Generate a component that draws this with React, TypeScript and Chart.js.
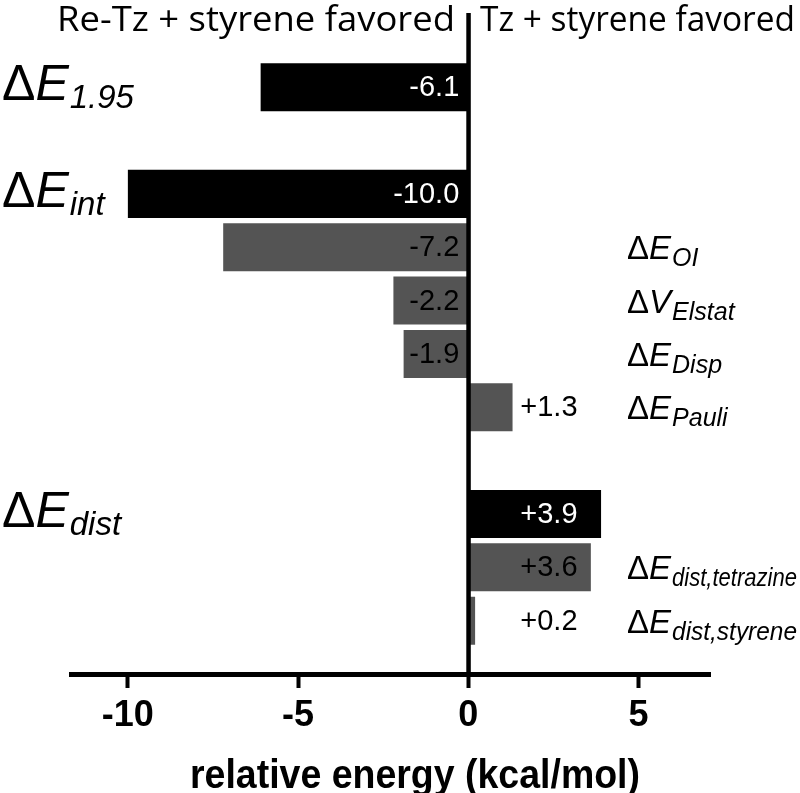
import React, { useEffect, useRef } from "react";
import { Chart, registerables } from "chart.js";

Chart.register(...registerables);

// ---- data ----
const rowIndex = [0, 2, 3, 4, 5, 6, 8, 9, 10];
const values = [-6.1, -10.0, -7.2, -2.2, -1.9, 1.3, 3.9, 3.6, 0.2];
const valueLabels = ["-6.1", "-10.0", "-7.2", "-2.2", "-1.9", "+1.3", "+3.9", "+3.6", "+0.2"];
const isTotal = [true, true, false, false, false, false, true, false, false];

const leftSymbols = ["ΔE", "ΔE", "ΔE"];
const leftSubs = ["1.95", "int", "dist"];
const leftRows = [0, 2, 8];

const rightSymbols = ["ΔE", "ΔV", "ΔE", "ΔE", "ΔE", "ΔE"];
const rightSubs = ["OI", "Elstat", "Disp", "Pauli", "dist,tetrazine", "dist,styrene"];
const rightRows = [3, 4, 5, 6, 9, 10];

const xTicks = [-10, -5, 0, 5];
const headers = ["Re-Tz + styrene favored", "Tz + styrene favored"];
const axisTitle = "relative energy (kcal/mol)";

const SANS = "'Liberation Sans', Arial, sans-serif";

function drawSymbol(
  ctx: CanvasRenderingContext2D,
  x: number,
  baseline: number,
  sym: string,
  sub: string,
  size: number,
  subSize: number,
  subDrop: number,
  maxRight: number
) {
  ctx.textAlign = "left";
  ctx.textBaseline = "alphabetic";
  ctx.fillStyle = "#000";
  ctx.font = `${size}px ${SANS}`;
  const d = sym.charAt(0);
  ctx.fillText(d, x, baseline);
  let cx = x + ctx.measureText(d).width;
  ctx.font = `italic ${size}px ${SANS}`;
  const rest = sym.slice(1);
  ctx.fillText(rest, cx, baseline);
  cx += ctx.measureText(rest).width + 1;
  ctx.font = `italic ${subSize}px ${SANS}`;
  ctx.fillText(sub, cx, baseline + subDrop, Math.max(10, maxRight - cx));
}

// draw text stretched/compressed horizontally to span [x0, x0+w]
function fitText(ctx: CanvasRenderingContext2D, text: string, x0: number, w: number, baseline: number) {
  const natural = ctx.measureText(text).width;
  const sx = w / natural;
  ctx.save();
  ctx.translate(x0, baseline);
  ctx.scale(sx, 1);
  ctx.textAlign = "left";
  ctx.textBaseline = "alphabetic";
  ctx.fillText(text, 0, 0);
  ctx.restore();
}

const overlayPlugin = {
  id: "overlay",
  afterDatasetsDraw(chart: any) {
    const ctx: CanvasRenderingContext2D = chart.ctx;
    const xs = chart.scales.x;
    const ys = chart.scales.y;
    const area = chart.chartArea;
    const zero = xs.getPixelForValue(0);
    ctx.save();

    // zero line
    ctx.fillStyle = "#000";
    ctx.fillRect(zero - 2, 13, 4.5, area.bottom - 13);

    // value labels
    const meta = chart.getDatasetMeta(0);
    meta.data.forEach((bar: any, i: number) => {
      const v = values[i];
      ctx.font = `29px ${SANS}`;
      ctx.textBaseline = "middle";
      ctx.fillStyle = isTotal[i] ? "#fff" : "#000";
      if (v < 0) {
        ctx.textAlign = "right";
        ctx.fillText(valueLabels[i], zero - 9, bar.y + 1);
      } else {
        ctx.textAlign = "left";
        ctx.fillText(valueLabels[i], zero + 52, bar.y + 1);
      }
    });

    // left labels
    leftRows.forEach((r, i) => {
      const cy = ys.getPixelForValue(r);
      drawSymbol(ctx, 2, cy + 13, leftSymbols[i], leftSubs[i], 50, 33, 8, 200);
    });

    // right labels
    rightRows.forEach((r, i) => {
      const cy = ys.getPixelForValue(r);
      drawSymbol(ctx, 627, cy + 12, rightSymbols[i], rightSubs[i], 33, 25, 7, 797);
    });

    // headers
    ctx.fillStyle = "#000";
    ctx.font = `35px 'Open Sans', sans-serif`;
    fitText(ctx, headers[0], 57, 398, 31);
    fitText(ctx, headers[1], 480, 315, 31);

    // axis title
    ctx.font = `bold 41px ${SANS}`;
    fitText(ctx, axisTitle, 190, 450, 788);

    ctx.restore();
  },
};

export default function App() {
  const ref = useRef<HTMLCanvasElement | null>(null);

  useEffect(() => {
    document.body.style.margin = "0";
    const canvas = ref.current;
    if (!canvas) return;
    const chart = new Chart(canvas, {
      type: "bar",
      data: {
        datasets: [
          {
            data: values.map((v, i) => ({ x: v, y: rowIndex[i] })),
            backgroundColor: isTotal.map((t) => (t ? "#000000" : "#545454")),
            borderWidth: 0,
            barPercentage: 0.9,
            categoryPercentage: 1,
          },
        ],
      },
      options: {
        indexAxis: "y",
        animation: false,
        responsive: true,
        maintainAspectRatio: false,
        layout: { padding: { top: 60.5, left: 71.7, right: 90, bottom: 0 } },
        plugins: {
          legend: { display: false },
          tooltip: { enabled: false },
        },
        scales: {
          y: {
            type: "linear",
            display: false,
            offset: false,
            reverse: true,
            min: -0.5,
            max: 11,
            ticks: { stepSize: 1, includeBounds: false },
          },
          x: {
            type: "linear",
            position: "bottom",
            min: -11.65,
            max: 7.1,
            afterBuildTicks: (s: any) => {
              s.ticks = xTicks.map((v) => ({ value: v }));
            },
            afterFit: (s: any) => {
              s.height = 119;
            },
            border: { display: true, width: 5, color: "#000" },
            grid: {
              drawOnChartArea: false,
              drawTicks: true,
              tickLength: 14,
              tickWidth: 4,
              tickColor: "#000",
            },
            ticks: {
              color: "#000",
              padding: 6,
              font: { family: SANS, size: 36, weight: "bold" },
              callback: (v: any) => String(v),
            },
            title: { display: false, text: axisTitle },
          },
        },
      },
      plugins: [overlayPlugin],
    });
    return () => chart.destroy();
  }, []);

  return (
    <div style={{ position: "relative", width: 800, height: 793 }}>
      <canvas ref={ref} />
    </div>
  );
}
